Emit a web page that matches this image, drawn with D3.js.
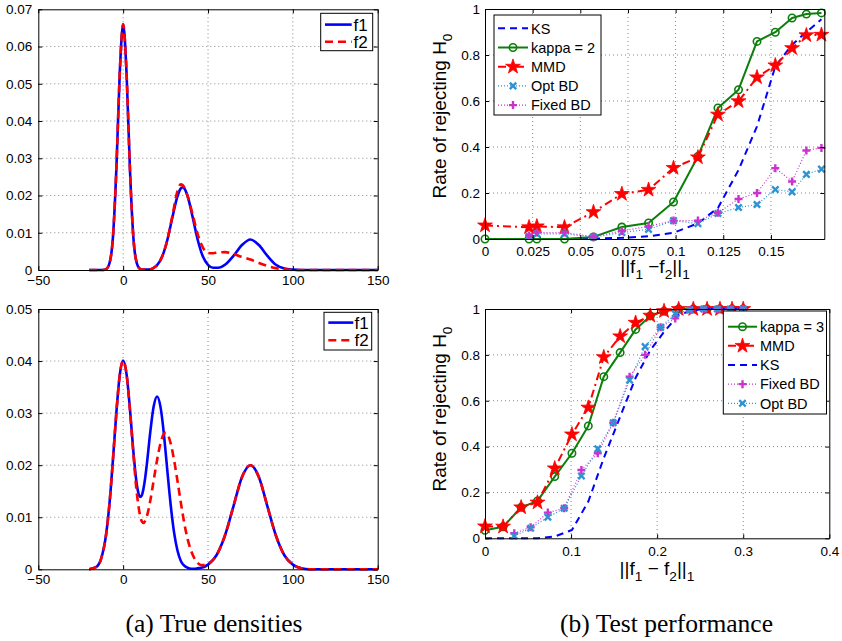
<!DOCTYPE html>
<html><head><meta charset="utf-8">
<script src="https://cdn.jsdelivr.net/npm/d3@7"></script>
<style>body{margin:0;background:#fff}svg{display:block}</style>
</head><body>
<svg id="c" width="842" height="641"></svg>
<script>
// ---------------- DATA ----------------
// (a) top: true densities, mixture 1
const xDensTop = [-20,-15,-12,-10,-8,-6,-4,-2,0,2,4,6,8,10,12,15,18,20,23,26,29,32,34,35,36,38,41,44,47,50,53,56,60,65,70,75,80,85,90,95,100,105,110,150];
const f1Top = [0,0,0.00002,0.00025,0.0019,0.0089,0.0271,0.0529,0.0660,0.0529,0.0271,0.0089,0.0019,0.0003,0.0001,0.0001,0.0006,0.0013,0.0036,0.0080,0.0141,0.0198,0.0219,0.0222,0.0219,0.0198,0.0141,0.0080,0.0036,0.0014,0.0006,0.0006,0.0014,0.0038,0.0067,0.0082,0.0067,0.0038,0.0014,0.0004,0.0001,0,0,0];
const f2Top = [0,0,0.00002,0.00025,0.0019,0.0089,0.0271,0.0529,0.0660,0.0529,0.0271,0.0089,0.0019,0.0003,0.0001,0.0001,0.0006,0.0013,0.0036,0.0080,0.0145,0.0212,0.0230,0.0228,0.0222,0.0198,0.0148,0.0095,0.0060,0.0046,0.0045,0.0047,0.0048,0.0043,0.0035,0.0028,0.0019,0.0011,0.0005,0.0002,0,0,0,0];
// (a) bottom: true densities, mixture 2
const xDensBot = [-20,-16,-13,-10,-8,-6,-4,-2,0,2,4,6,8,9,10,11,12,13,14,16,18,20,22,24,25,26,28,30,32,34,36,38,40,42,44,46,48,50,55,60,65,70,75,80,85,90,95,100,105,110,120,150];
const f1Bot = [0,0.0004,0.0020,0.0068,0.0128,0.0211,0.0301,0.0373,0.0401,0.0375,0.0308,0.0227,0.0164,0.0146,0.0139,0.0142,0.0155,0.0176,0.0203,0.0264,0.0313,0.0332,0.0312,0.0260,0.0226,0.0191,0.0124,0.0071,0.0036,0.0016,0.0007,0.0003,0.0001,0.0001,0.0002,0.0003,0.0005,0.0009,0.0027,0.0065,0.0121,0.0177,0.0200,0.0177,0.0121,0.0065,0.0027,0.0009,0.0002,0,0,0];
const f2Bot = [0,0.0004,0.0020,0.0068,0.0128,0.0211,0.0301,0.0373,0.0401,0.0375,0.0306,0.0222,0.0148,0.0122,0.0103,0.0092,0.0089,0.0093,0.0102,0.0132,0.0171,0.0210,0.0242,0.0260,0.0262,0.0260,0.0242,0.0210,0.0170,0.0128,0.0089,0.0058,0.0036,0.0021,0.0012,0.0008,0.0008,0.0010,0.0027,0.0065,0.0121,0.0177,0.0200,0.0177,0.0121,0.0065,0.0027,0.0009,0.0002,0,0,0];
const densXTicks = [-50,0,50,100,150];
const densXTickLabels = ["\u221250","0","50","100","150"];
const densTopYTicks = [0,0.01,0.02,0.03,0.04,0.05,0.06,0.07];
const densTopYTickLabels = ["0","0.01","0.02","0.03","0.04","0.05","0.06","0.07"];
const densBotYTicks = [0,0.01,0.02,0.03,0.04,0.05];
const densBotYTickLabels = ["0","0.01","0.02","0.03","0.04","0.05"];

// (b) top: test performance, mixture 1
const xPerfTop = [0,0.0231,0.0272,0.0417,0.0569,0.0718,0.0858,0.0989,0.1117,0.1222,0.1330,0.1427,0.1523,0.1611,0.1686,0.1765];
const ksTop = [0,0,0,0,0.002,0.005,0.012,0.027,0.068,0.135,0.300,0.490,0.750,0.845,0.900,0.955];
const kappa2Top = [0,0,0,0,0.009,0.052,0.070,0.161,0.359,0.570,0.649,0.859,0.899,0.961,0.978,0.983];
const mmdTop = [0.059,0.051,0.055,0.051,0.117,0.196,0.214,0.309,0.355,0.541,0.599,0.703,0.755,0.830,0.886,0.888];
const xPerfTopBD = [0.0231,0.0272,0.0417,0.0569,0.0718,0.0858,0.0989,0.1117,0.1222,0.1330,0.1427,0.1523,0.1611,0.1686,0.1765];
const optBDTop = [0.012,0.022,0.022,0.008,0.028,0.042,0.080,0.067,0.111,0.137,0.150,0.215,0.205,0.281,0.304];
const fixedBDTop = [0.015,0.028,0.028,0.010,0.035,0.055,0.080,0.080,0.114,0.174,0.200,0.308,0.250,0.385,0.396];
const perfTopXTicks = [0,0.025,0.05,0.075,0.1,0.125,0.15];
const perfTopXTickLabels = ["0","0.025","0.05","0.075","0.1","0.125","0.15"];

// (b) bottom: test performance, mixture 2
const xPerfBot = [0,0.021,0.042,0.061,0.081,0.101,0.120,0.138,0.157,0.175,0.192,0.208,0.225,0.242,0.258,0.273,0.287,0.300];
const kappa3Bot = [0.035,0.050,0.135,0.163,0.269,0.371,0.490,0.705,0.810,0.911,0.970,0.990,1,1,1,1,1,1];
const mmdBot = [0.052,0.051,0.135,0.156,0.305,0.453,0.570,0.790,0.881,0.940,0.971,0.991,1,1,1,1,1,1];
const ksBot = [0,0,0,0,0.008,0.036,0.160,0.350,0.530,0.700,0.820,0.900,0.975,0.995,1,1,1,1];
const xPerfBotBD = [0.034,0.053,0.073,0.092,0.112,0.131,0.149,0.168,0.186,0.204,0.221,0.238,0.254,0.270,0.285,0.300];
const fixedBDBot = [0.022,0.048,0.112,0.131,0.298,0.371,0.504,0.705,0.800,0.920,0.959,0.996,1,1,1,1];
const optBDBot = [0.010,0.044,0.092,0.131,0.272,0.390,0.504,0.690,0.836,0.920,0.980,0.996,1,1,1,1];
const perfBotXTicks = [0,0.1,0.2,0.3,0.4];
const perfBotXTickLabels = ["0","0.1","0.2","0.3","0.4"];
const perfYTicks = [0,0.2,0.4,0.6,0.8,1];
const perfYTickLabels = ["0","0.2","0.4","0.6","0.8","1"];

const captions = ["(a) True densities","(b) Test performance"];

// ---------------- DRAWING ----------------
const svg = d3.select("#c");
const SANS = "'Liberation Sans', Arial, Helvetica, sans-serif";
const SERIF = "'Liberation Serif', 'Times New Roman', serif";
const TFS = 13.5;

const C = {blue:"#0000ff", red:"#ff0000", green:"#0b7f0b", cyan:"#2e93d3", mag:"#cc33cc"};
const STY = {
  f1:{color:C.blue, w:2.6, dash:null},
  f2:{color:C.red, w:2.6, dash:"8,5"},
  ks:{color:C.blue, w:2, dash:"7,5"},
  kappa:{color:C.green, w:2, dash:null, marker:"o"},
  mmd:{color:C.red, w:2, dash:"8,4,2,4", marker:"star"},
  opt:{color:C.cyan, w:1.2, dash:"1,2", marker:"x"},
  fixed:{color:C.mag, w:1.2, dash:"1,2", marker:"+"}
};

function drawMarker(g, type, color, cx, cy) {
  if (type === "o") {
    g.append("circle").attr("cx",cx).attr("cy",cy).attr("r",3.7)
      .attr("fill","none").attr("stroke",color).attr("stroke-width",1.6);
  } else if (type === "star") {
    g.append("path").attr("d", d3.symbol(d3.symbolStar, 68)())
      .attr("transform",`translate(${cx},${cy})`)
      .attr("fill",color).attr("stroke",color).attr("stroke-width",0.8);
  } else if (type === "+") {
    g.append("path").attr("d","M-4,0H4M0,-4V4").attr("transform",`translate(${cx},${cy})`)
      .attr("stroke",color).attr("stroke-width",2.4).attr("fill","none");
  } else if (type === "x") {
    g.append("path").attr("d","M-3.2,-3.2L3.2,3.2M-3.2,3.2L3.2,-3.2").attr("transform",`translate(${cx},${cy})`)
      .attr("stroke",color).attr("stroke-width",2.4).attr("fill","none");
  }
}

function panel(o) {
  const g = svg.append("g");
  const x = d3.scaleLinear().domain(o.xd).range([o.l, o.r]);
  const y = d3.scaleLinear().domain(o.yd).range([o.b, o.t]);
  // grid
  g.selectAll(null).data(o.xt.filter(v => x(v) > o.l + 1 && x(v) < o.r - 1)).enter().append("line")
    .attr("x1", d => x(d)).attr("x2", d => x(d)).attr("y1", o.t).attr("y2", o.b)
    .attr("stroke", "#7a7a7a").attr("stroke-width", 0.9).attr("stroke-dasharray", "1,3");
  g.selectAll(null).data(o.yt.filter(v => y(v) > o.t + 1 && y(v) < o.b - 1)).enter().append("line")
    .attr("y1", d => y(d)).attr("y2", d => y(d)).attr("x1", o.l).attr("x2", o.r)
    .attr("stroke", "#7a7a7a").attr("stroke-width", 0.9).attr("stroke-dasharray", "1,3");

  // series
  const plot = g.append("g");
  o.series.forEach(s => {
    const st = STY[s.style];
    const pts = s.x.map((v, i) => [v, s.y[i]]);
    const line = d3.line().x(d => x(d[0])).y(d => y(d[1]));
    if (s.smooth) line.curve(d3.curveMonotoneX);
    const p = plot.append("path").datum(pts).attr("d", line)
      .attr("fill", "none").attr("stroke", st.color).attr("stroke-width", st.w)
      .attr("stroke-linejoin", "round");
    if (st.dash) p.attr("stroke-dasharray", st.dash);
    if (st.marker) pts.forEach(d => drawMarker(plot, st.marker, st.color, x(d[0]), y(d[1])));
  });

  // axes (frame, inward ticks)
  const styleAx = (sel) => {
    sel.selectAll("path.domain").attr("stroke", "#000").attr("stroke-width", 1);
    sel.selectAll(".tick line").attr("stroke", "#000").attr("stroke-width", 1);
    sel.selectAll("text").attr("font-family", SANS).attr("font-size", TFS).attr("fill", "#000");
  };
  const bx = g.append("g").attr("transform", `translate(0,${o.b})`)
    .call(d3.axisBottom(x).tickValues(o.xt).tickFormat((d, i) => o.xtl[i]).tickSizeInner(-4).tickSizeOuter(0).tickPadding(o.xpad));
  styleAx(bx);
  const tx = g.append("g").attr("transform", `translate(0,${o.t})`)
    .call(d3.axisTop(x).tickValues(o.xt).tickFormat("").tickSizeInner(-4).tickSizeOuter(0));
  styleAx(tx);
  const ly = g.append("g").attr("transform", `translate(${o.l},0)`)
    .call(d3.axisLeft(y).tickValues(o.yt).tickFormat((d, i) => o.ytl[i]).tickSizeInner(-4).tickSizeOuter(0).tickPadding(o.ypad));
  styleAx(ly);
  const ry = g.append("g").attr("transform", `translate(${o.r},0)`)
    .call(d3.axisRight(y).tickValues(o.yt).tickFormat("").tickSizeInner(-4).tickSizeOuter(0));
  styleAx(ry);

  // legend
  if (o.legend) {
    const L = o.legend;
    const lg = g.append("g");
    lg.append("rect").attr("x", L.x0).attr("y", L.y0).attr("width", L.x1 - L.x0).attr("height", L.y1 - L.y0)
      .attr("fill", "#fff").attr("stroke", "#000").attr("stroke-width", 1);
    L.items.forEach((it, i) => {
      const st = STY[it.style];
      const yy = L.row0 + i * L.dy;
      const ln = lg.append("line").attr("x1", L.lx0).attr("x2", L.lx1).attr("y1", yy).attr("y2", yy)
        .attr("stroke", st.color).attr("stroke-width", st.w);
      if (st.dash) ln.attr("stroke-dasharray", st.dash);
      if (st.marker) drawMarker(lg, st.marker, st.color, (L.lx0 + L.lx1) / 2, yy);
      lg.append("text").attr("x", L.tx).attr("y", yy).attr("dy", "0.36em")
        .attr("font-family", SANS).attr("font-size", L.fs).text(it.label);
    });
  }
  return {x, y, g};
}

// subscript-capable label
function richText(parent, parts, attrs, fs) {
  const t = parent.append("text").attr("font-family", SANS).attr("font-size", fs).attr("fill", "#000");
  Object.entries(attrs).forEach(([k, v]) => t.attr(k, v));
  let sub = false;
  parts.forEach(p => {
    const ts = t.append("tspan").text(p.t);
    if (p.sub && !sub) { ts.attr("dy", fs * 0.32).attr("font-size", fs * 0.72); sub = true; }
    else if (p.sub && sub) { ts.attr("font-size", fs * 0.72); }
    else if (!p.sub && sub) { ts.attr("dy", -fs * 0.32); sub = false; }
  });
  return t;
}

// (a) top
panel({l:38.3, r:377.7, t:9.3, b:270, xd:[-50,150], yd:[0,0.07],
  xt:densXTicks, xtl:densXTickLabels, yt:densTopYTicks, ytl:densTopYTickLabels, xpad:5, ypad:6,
  series:[{x:xDensTop, y:f1Top, style:"f1", smooth:true},{x:xDensTop, y:f2Top, style:"f2", smooth:true}],
  legend:{x0:320.7, x1:372.7, y0:13.3, y1:50.7, row0:24.6, dy:17.2, lx0:325, lx1:351.7, tx:353.5, fs:17,
    items:[{style:"f1", label:"f1"},{style:"f2", label:"f2"}]}
});
// (a) bottom
panel({l:38.3, r:377.7, t:309, b:569.3, xd:[-50,150], yd:[0,0.05],
  xt:densXTicks, xtl:densXTickLabels, yt:densBotYTicks, ytl:densBotYTickLabels, xpad:5.5, ypad:6,
  series:[{x:xDensBot, y:f1Bot, style:"f1", smooth:true},{x:xDensBot, y:f2Bot, style:"f2", smooth:true}],
  legend:{x0:324, x1:371.7, y0:312.3, y1:350, row0:322.6, dy:17.6, lx0:328.3, lx1:353.3, tx:354.5, fs:17,
    items:[{style:"f1", label:"f1"},{style:"f2", label:"f2"}]}
});
// (b) top
panel({l:485, r:824.3, t:9, b:239, xd:[0,0.178], yd:[0,1],
  xt:perfTopXTicks, xtl:perfTopXTickLabels, yt:perfYTicks, ytl:perfYTickLabels, xpad:7, ypad:5,
  series:[
    {x:xPerfTop, y:ksTop, style:"ks"},
    {x:xPerfTop, y:kappa2Top, style:"kappa"},
    {x:xPerfTop, y:mmdTop, style:"mmd"},
    {x:xPerfTopBD, y:optBDTop, style:"opt"},
    {x:xPerfTopBD, y:fixedBDTop, style:"fixed"}],
  legend:{x0:494, x1:601, y0:15, y1:115, row0:28.3, dy:19.2, lx0:498, lx1:528, tx:531, fs:14.5,
    items:[{style:"ks", label:"KS"},{style:"kappa", label:"kappa = 2"},{style:"mmd", label:"MMD"},{style:"opt", label:"Opt BD"},{style:"fixed", label:"Fixed BD"}]}
});
// (b) bottom
panel({l:485, r:829.3, t:309, b:538.3, xd:[0,0.4], yd:[0,1],
  xt:perfBotXTicks, xtl:perfBotXTickLabels, yt:perfYTicks, ytl:perfYTickLabels, xpad:8, ypad:5,
  series:[
    {x:xPerfBot, y:kappa3Bot, style:"kappa"},
    {x:xPerfBot, y:mmdBot, style:"mmd"},
    {x:xPerfBot, y:ksBot, style:"ks"},
    {x:xPerfBotBD, y:fixedBDBot, style:"fixed"},
    {x:xPerfBotBD, y:optBDBot, style:"opt"}],
  legend:{x0:723.3, x1:826.5, y0:311, y1:414, row0:326.7, dy:19.15, lx0:728, lx1:757, tx:760, fs:14.5,
    items:[{style:"kappa", label:"kappa = 3"},{style:"mmd", label:"MMD"},{style:"ks", label:"KS"},{style:"fixed", label:"Fixed BD"},{style:"opt", label:"Opt BD"}]}
});

// axis titles (right column)
const AFS = 19;
richText(svg, [{t:"Rate of rejecting H"},{t:"0", sub:true}], {"text-anchor":"middle", transform:"translate(445.5,116) rotate(-90)"}, AFS);
richText(svg, [{t:"Rate of rejecting H"},{t:"0", sub:true}], {"text-anchor":"middle", transform:"translate(445.5,409) rotate(-90)"}, AFS);
richText(svg, [{t:"||f"},{t:"1", sub:true},{t:" \u2212f"},{t:"2", sub:true},{t:"||"},{t:"1", sub:true}], {"text-anchor":"middle", x:655, y:273}, AFS);
richText(svg, [{t:"||f"},{t:"1", sub:true},{t:" \u2212 f"},{t:"2", sub:true},{t:"||"},{t:"1", sub:true}], {"text-anchor":"middle", x:657, y:575}, AFS);

// captions
svg.selectAll(null).data(captions).enter().append("text")
  .attr("x", (d, i) => [214, 666.5][i]).attr("y", 632)
  .attr("text-anchor", "middle").attr("font-family", SERIF).attr("font-size", 25.5).attr("fill", "#000")
  .text(d => d);
</script>
</body></html>
